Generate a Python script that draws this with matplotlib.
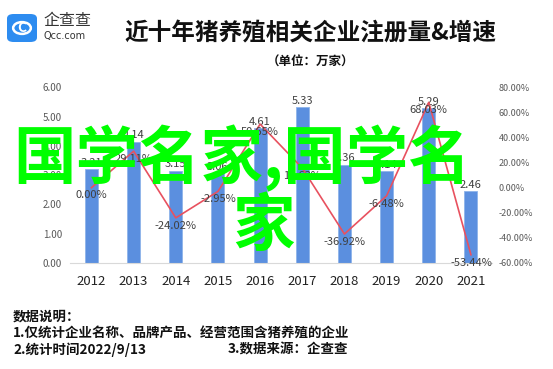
import matplotlib.pyplot as plt
from matplotlib.patches import FancyBboxPatch, Circle

plt.rcParams['font.family'] = ['Noto Sans CJK SC', 'DejaVu Sans']

years = ['2012', '2013', '2014', '2015', '2016', '2017', '2018', '2019', '2020', '2021']
counts = [3.21, 4.14, 3.15, 3.06, 4.61, 5.33, 3.36, 3.14, 5.29, 2.46]
growth = [0.00, 29.11, -24.02, -2.95, 50.65, 15.63, -36.92, -6.48, 68.03, -53.44]
left_ticks = [0, 1, 2, 3, 4, 5, 6]
right_ticks = [-60, -40, -20, 0, 20, 40, 60, 80]

fig = plt.figure(figsize=(5.53, 3.69), dpi=100)
ax = fig.add_axes([0.1273, 0.2873, 0.7624, 0.4761])
x = list(range(len(years)))

ax.bar(x, counts, width=0.31, color='#5B8FDF', edgecolor='#8DB3EA', linewidth=0.6, zorder=2)
ax.set_xlim(-0.5, len(years) - 0.5)
ax.set_ylim(0, 6)
ax.set_yticks(left_ticks)
ax.set_yticklabels(['%.2f' % v for v in left_ticks], fontsize=7, color='#595959')
ax.set_xticks(x)
ax.set_xticklabels(years, fontsize=9.5, color='#222222')
ax.tick_params(axis='both', length=0)
ax.tick_params(axis='y', pad=6)
ax.tick_params(axis='x', pad=9)
for s in ['top', 'left', 'right']:
    ax.spines[s].set_visible(False)
ax.spines['bottom'].set_color('#D9D9D9')

for i, v in enumerate(counts):
    ax.annotate('%.2f' % v, (i, v), xytext=(0, 1), textcoords='offset points',
                ha='center', va='bottom', fontsize=8, color='#404040', zorder=5)

ax2 = ax.twinx()
ax2.plot(x, growth, color='#E8515F', linewidth=1.2, zorder=3)
ax2.set_ylim(-60, 80)
ax2.set_yticks(right_ticks)
ax2.set_yticklabels(['%.2f%%' % v for v in right_ticks], fontsize=6.5, color='#595959')
ax2.tick_params(axis='y', length=0, pad=5)
for s in ['top', 'left', 'right', 'bottom']:
    ax2.spines[s].set_visible(False)

for i, v in enumerate(growth):
    ax2.annotate('%.2f%%' % v, (i, v), xytext=(0, -2), textcoords='offset points',
                 ha='center', va='top', fontsize=8, color='#404040')

# title
fig.text(0.5606, 0.91, '近十年猪养殖相关企业注册量&增速', ha='center', va='center',
         fontsize=17, fontweight='bold', color='#111111')
fig.text(0.5606, 0.831, '（单位：万家）', ha='center', va='center',
         fontsize=9, fontweight='bold', color='#111111')

# logo
logo = FancyBboxPatch((7 / 553, 1 - 42 / 369), 30 / 553, 28 / 369,
                      boxstyle='round,pad=0,rounding_size=0.012',
                      transform=fig.transFigure, facecolor='#2D8CF0', edgecolor='none')
fig.patches.append(logo)
fig.text(22 / 553, 1 - 28 / 369, 'C', ha='center', va='center', fontsize=10,
         fontweight='bold', color='white')
ring = Circle((22 / 553, 1 - 28 / 369), 0.016, transform=fig.transFigure,
              fill=False, edgecolor='white', linewidth=1.8)
fig.patches.append(ring)
fig.text(43 / 553, 1 - 20 / 369, '企查查', ha='left', va='center', fontsize=11.5, color='#333333')
fig.text(43 / 553, 1 - 36 / 369, 'Qcc.com', ha='left', va='center', fontsize=7,
         color='#333333', family='DejaVu Sans')

# notes
fig.text(13 / 553, 1 - 317 / 369, '数据说明：', ha='left', va='center', fontsize=9.7,
         fontweight='bold', color='#111111')
fig.text(13 / 553, 1 - 334 / 369, '1.仅统计企业名称、品牌产品、经营范围含猪养殖的企业',
         ha='left', va='center', fontsize=9.7, fontweight='bold', color='#111111')
fig.text(13 / 553, 1 - 350 / 369, '2.统计时间2022/9/13', ha='left', va='center',
         fontsize=9.7, fontweight='bold', color='#111111')
fig.text(228 / 553, 1 - 350 / 369, '3.数据来源：企查查', ha='left', va='center',
         fontsize=9.7, fontweight='bold', color='#111111')

# overlay text
fig.text(13 / 553, 1 - 158 / 369, '国学名家,国学名', ha='left', va='center',
         fontsize=45, fontweight='bold', color='#00FF00', zorder=10)
fig.text(263 / 553, 1 - 226 / 369, '家', ha='center', va='center',
         fontsize=45, fontweight='bold', color='#00FF00', zorder=10)

plt.savefig('out.png', dpi=100)
